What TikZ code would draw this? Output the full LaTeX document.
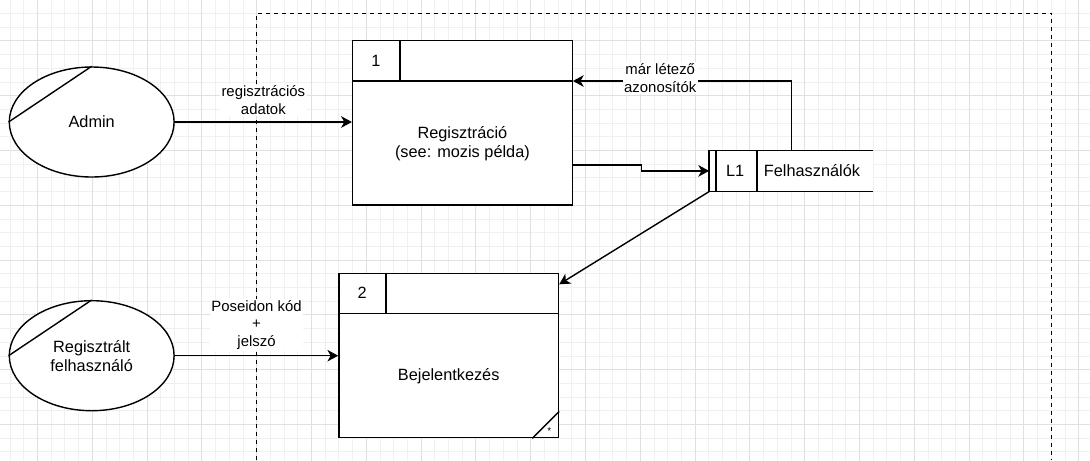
\documentclass[tikz,border=0pt]{standalone}
\usepackage{fontspec}
\setmainfont{Liberation Sans}
\usetikzlibrary{calc,arrows.meta,shapes.geometric}
\newcommand\dfdnodefont{\fontsize{11.6pt}{13.6pt}\selectfont}
\newcommand\dfdlabelfont{\fontsize{10.6pt}{12.6pt}\selectfont}
\tikzset{
	entity/.style={draw, fill=white, line width=1pt, ellipse, minimum width=41.2mm, minimum height=27.5mm, inner sep=0pt, align=center, font=\dfdnodefont},
	procbox/.style={draw, fill=white, line width=1pt, rectangle, minimum width=54.9mm, minimum height=41.1mm, inner sep=0pt},
	storebox/.style={fill=white, rectangle, minimum width=40.9mm, minimum height=10.2mm, inner sep=0pt},
	flow/.style={line width=1pt, -{Stealth[length=2.7mm, width=2.9mm, inset=0.8mm]}},
	flowlabel/.style={fill=white, align=center, inner sep=1pt, font=\dfdlabelfont},
	celltext/.style={font=\dfdnodefont, align=center, inner sep=0pt},
}

\begin{document}
\begin{tikzpicture}[x=0.25mm, y=-0.25mm]
			%%%%% START %%%%%
			
			\fill[white] (0, 0) rectangle (1090, 460);
			\useasboundingbox (0, 0) rectangle (1090, 460);
			
			% background grid
			\draw[line width=0.4pt, color=black!6, step=3.425mm, shift={(9.9, 13.3)}] (-20, 480) grid (1100, -20);
			\draw[line width=0.5pt, color=black!12, step=13.7mm, shift={(37.3, 40.7)}] (-60, 480) grid (1100, -60);
			
			% system boundary
			\draw[line width=0.9pt, dash pattern=on 1mm off 1mm] (256.6, 460) -- (256.6, 13.3) -- (1051.8, 13.3) -- (1051.8, 460);
			
			% external entities
			\node[entity] (admin) at (91.7, 122) {Admin};
			\draw[line width=1pt] (admin.west) -- (admin.north);
			
			\node[entity] (regf) at (91.7, 355.7) {Regisztrált\\felhasználó};
			\draw[line width=1pt] (regf.west) -- (regf.north);
			
			% process 1
			\node[procbox] (proc1) at (462.4, 122.9) {};
			\draw[line width=1pt] ($(proc1.north west)+(0, 41)$) -- ($(proc1.north east)+(0, 41)$);
			\draw[line width=1pt] ($(proc1.north west)+(48, 0)$) -- ($(proc1.north west)+(48, 41)$);
			\node[celltext] (proc1num) at ($(proc1.north west)+(24, 20.5)$) {1};
			\node[celltext] (proc1txt) at ($(proc1.center)+(0, 20.5)$) {Regisztráció\\(see: mozis példa)};
			
			% process 2
			\node[procbox] (proc2) at (448.7, 355.5) {};
			\draw[line width=1pt] ($(proc2.north west)+(0, 41)$) -- ($(proc2.north east)+(0, 41)$);
			\draw[line width=1pt] ($(proc2.north west)+(48, 0)$) -- ($(proc2.north west)+(48, 41)$);
			\draw[line width=1pt] ($(proc2.south east)+(-27, 0)$) -- ($(proc2.south east)+(0, -27)$);
			\node[celltext] (proc2num) at ($(proc2.north west)+(24, 20.5)$) {2};
			\node[celltext] (proc2txt) at ($(proc2.center)+(0, 20.5)$) {Bejelentkezés};
			\node[font=\fontsize{7pt}{8pt}\selectfont, inner sep=0pt] (proc2star) at ($(proc2.south east)+(-10, -7)$) {*};
			
			% data store
			\node[storebox] (store) at (791.2, 170.9) {};
			\draw[line width=1pt] (store.north east) -- (store.north west) -- (store.south west) -- (store.south east);
			\draw[line width=1pt] ($(store.north west)+(6.8, 0)$) -- ($(store.south west)+(6.8, 0)$);
			\draw[line width=1pt] ($(store.north west)+(48, 0)$) -- ($(store.south west)+(48, 0)$);
			\node[celltext] (storeid) at ($(store.west)+(26, 0)$) {L1};
			\node[celltext, anchor=west] (storename) at ($(store.west)+(54.5, 0)$) {Felhasználók};
			
			% flows
			\coordinate (p1back) at ($(proc1.north east)+(0, 41)$);
			\coordinate (p1out) at ($(proc1.south east)+(0, -41)$);
			\coordinate (p2in) at ($(proc2.north east)+(0, 11.7)$);
			
			\draw[flow] (admin.east) -- node[flowlabel, yshift=5.4mm] (lbladat) {regisztrációs\\adatok} (admin.east -| proc1.west);
			\draw[flow] (regf.east) -- node[flowlabel, yshift=7.7mm] (lblpass) {Poseidon kód\\+\\jelszó} (regf.east -| proc2.west);
			\draw[flow] (p1out) -- ($(p1out)+(68.5, 0)$) |- (store.west);
			\draw[flow] (store.north) |- node[flowlabel, pos=0.8, yshift=0.8mm] (lblazon) {már létező\\azonosítók} (p1back);
			\draw[flow] (store.south west) -- (p2in);
			
			%%%%% END %%%%%
\end{tikzpicture}
\end{document}
